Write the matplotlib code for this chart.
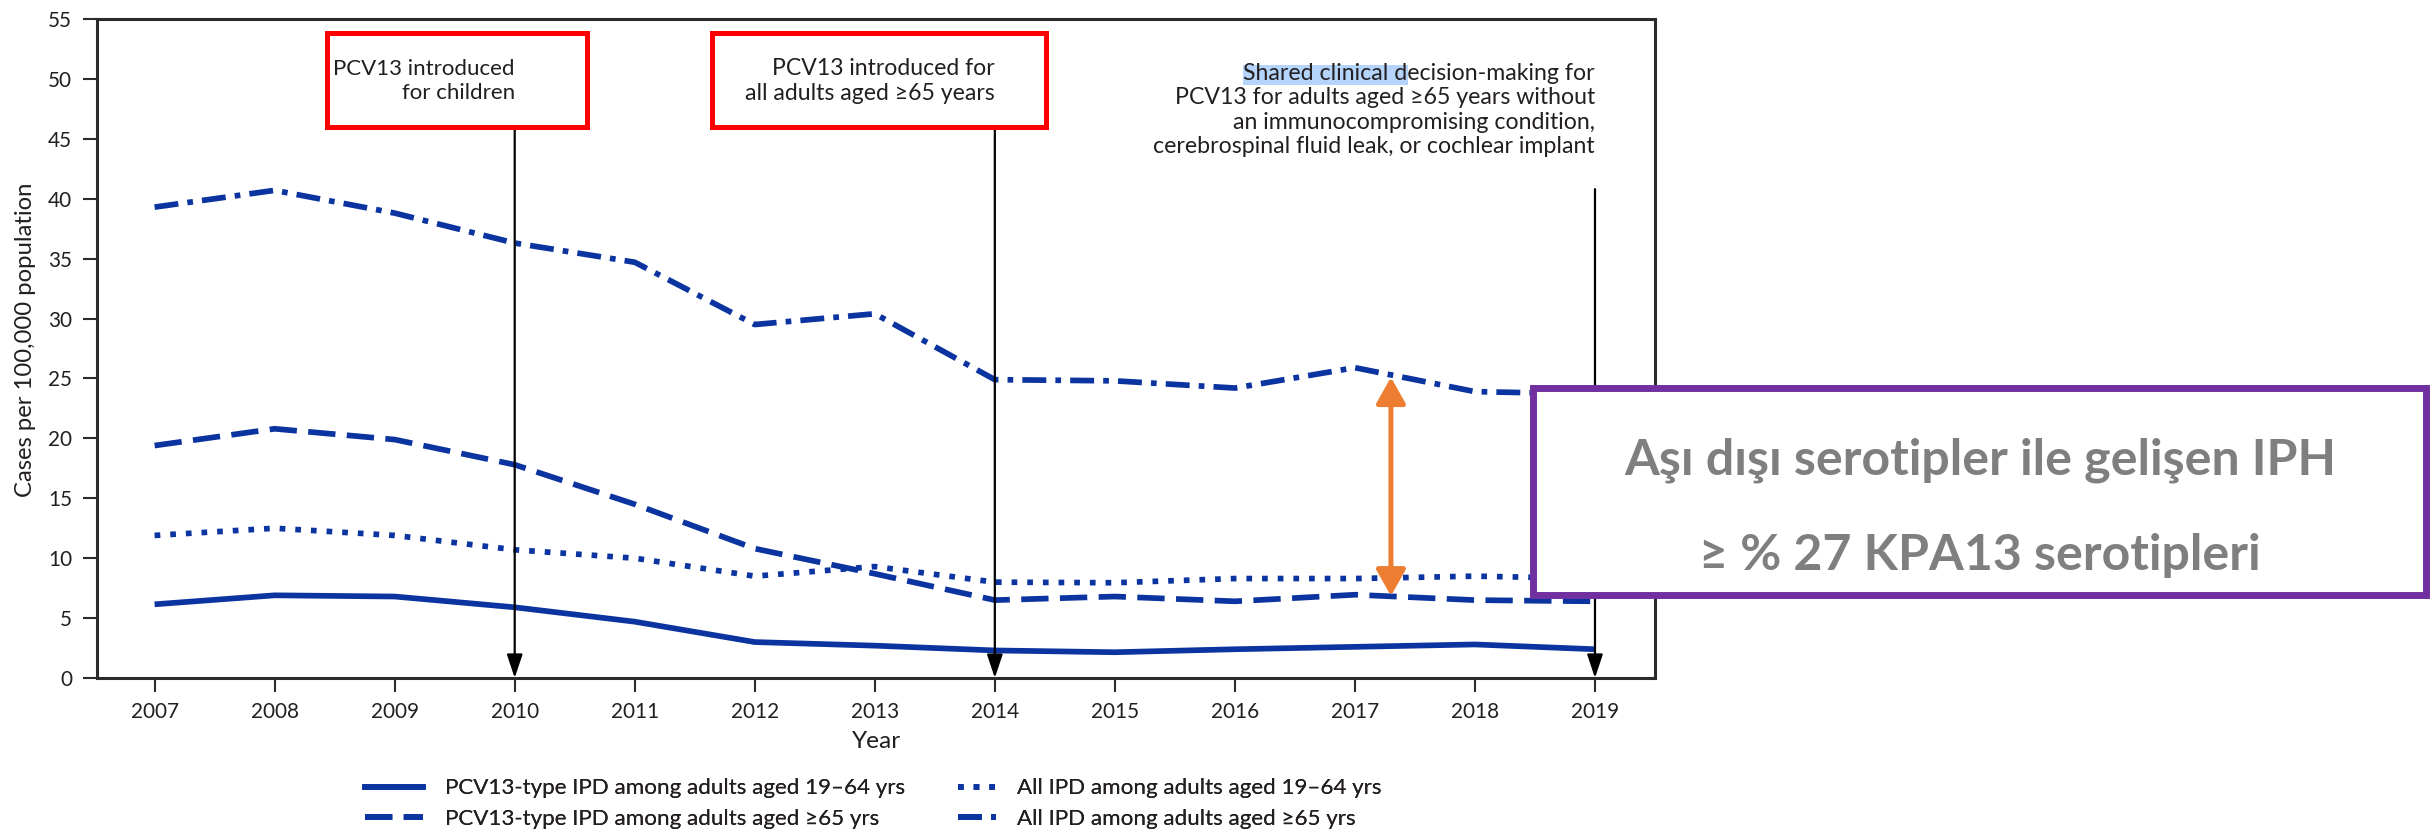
import matplotlib
matplotlib.use("Agg")
import matplotlib.pyplot as plt
from matplotlib.patches import Rectangle
from matplotlib.lines import Line2D

# ---- data -------------------------------------------------------------
years = [2007, 2008, 2009, 2010, 2011, 2012, 2013, 2014, 2015, 2016, 2017, 2018, 2019]
pcv13_19_64 = [6.15, 6.9, 6.8, 5.9, 4.7, 3.0, 2.7, 2.3, 2.15, 2.4, 2.6, 2.8, 2.4]
pcv13_65 = [19.4, 20.8, 19.9, 17.8, 14.5, 10.8, 8.7, 6.5, 6.8, 6.4, 6.95, 6.5, 6.4]
all_19_64 = [11.9, 12.5, 11.9, 10.7, 10.0, 8.5, 9.3, 8.0, 7.95, 8.3, 8.3, 8.5, 8.3]
all_65 = [39.3, 40.7, 38.8, 36.3, 34.7, 29.5, 30.4, 24.9, 24.8, 24.2, 25.9, 23.9, 23.7]

series_labels = [
    "PCV13-type IPD among adults aged 19–64 yrs",
    "PCV13-type IPD among adults aged ≥65 yrs",
    "All IPD among adults aged 19–64 yrs",
    "All IPD among adults aged ≥65 yrs",
]
y_ticks = list(range(0, 60, 5))
event_years = [2010, 2014, 2019]
event_texts = [
    "PCV13 introduced\nfor children",
    "PCV13 introduced for\nall adults aged ≥65 years",
    "Shared clinical decision-making for\nPCV13 for adults aged ≥65 years without\n"
    "an immunocompromising condition,\ncerebrospinal fluid leak, or cochlear implant",
]
gap_year = 2017.3
gap_low, gap_high = 6.85, 25.1
callout_lines = ["Aşı dışı serotipler ile gelişen IPH", "≥ % 27 KPA13 serotipleri"]

# ---- style ------------------------------------------------------------
W, H, DPI = 2431, 835, 100
FONT = ["Lato", "DejaVu Sans"]
INK = "#231f20"
BLUE = "#0b34a0"
LW = 4.1
styles = [
    dict(linestyle="-"),
    dict(linestyle=(0, (4.8, 2.0))),
    dict(linestyle=(0, (1.0, 1.75))),
    dict(linestyle=(0, (4.2, 1.6, 1.0, 1.6))),
]

plt.rcParams["font.family"] = FONT
fig = plt.figure(figsize=(W / DPI, H / DPI), dpi=DPI)
renderer = fig.canvas.get_renderer()


def px_to_fig(x, y):
    return x / W, 1 - y / H


def size_for(s, width_px, rotated=False, **kw):
    t = fig.text(0, 0, s, fontsize=10, family=FONT, **kw)
    bb = t.get_window_extent(renderer)
    t.remove()
    return 10 * width_px / (bb.height if rotated else bb.width)


left, right, top, bottom = 97, 1655, 19, 678
ax = fig.add_axes([left / W, 1 - bottom / H, (right - left) / W, (bottom - top) / H])

for vals, st in zip([pcv13_19_64, pcv13_65, all_19_64, all_65], styles):
    ax.plot(years, vals, color=BLUE, lw=LW, solid_capstyle="butt",
            dash_capstyle="butt", zorder=3, **st)

ax.set_xlim(2006.52, 2019.5)
ax.set_ylim(0, 55)
ax.set_xticks(years)
ax.set_yticks(y_ticks)

tick_fs = size_for("2007", 48)
ax.tick_params(axis="both", direction="out", length=10, width=1.5, color="#2b2b2b",
               labelsize=tick_fs, labelcolor=INK)
ax.tick_params(axis="y", pad=8)
ax.tick_params(axis="x", pad=7)
for sp in ax.spines.values():
    sp.set_linewidth(2.2)
    sp.set_color("#2b2b2b")

ax.set_ylabel("Cases per 100,000 population", fontsize=size_for("Cases per 100,000 population", 316),
              color=INK, va="center")
ax.yaxis.set_label_coords(-0.0462, 0.513)
ax.set_xlabel("Year", fontsize=size_for("Year", 49), color=INK, va="center")
ax.xaxis.set_label_coords(0.5, -0.0971)

# ---- event markers ------------------------------------------------------
arrow_tops = [46.0, 46.0, 40.8]
for yr, ytop in zip(event_years, arrow_tops):
    ax.annotate("", xy=(yr, 0), xytext=(yr, ytop), zorder=4,
                arrowprops=dict(arrowstyle="-|>,head_length=0.6,head_width=0.2",
                                color="black", lw=1.6, shrinkA=0, shrinkB=0,
                                mutation_scale=24), annotation_clip=False)

boxes = [(2008.44, 2010.60), (2011.64, 2014.43)]
for (x0, x1) in boxes:
    ax.add_patch(Rectangle((x0, 46.0), x1 - x0, 53.84 - 46.0, fill=False,
                           ec="#ff0000", lw=3.6, clip_on=False, zorder=4))

fs1 = size_for("PCV13 introduced", 182)
ax.text(2010.0, 49.8, event_texts[0], ha="right", va="center", multialignment="right",
        fontsize=fs1, color=INK, linespacing=1.25, zorder=5)
fs2 = size_for("all adults aged ≥65 years", 249)
ax.text(2014.0, 49.8, event_texts[1], ha="right", va="center", multialignment="right",
        fontsize=fs2, color=INK, linespacing=1.25, zorder=5)
fs3 = size_for("cerebrospinal fluid leak, or cochlear implant", 441)
t3 = ax.text(2019.0, 47.4, event_texts[2], ha="right", va="center", multialignment="right",
             fontsize=fs3, color=INK, linespacing=1.2, zorder=5)

# selection highlight behind the first words of the policy note
fig.canvas.draw()
bb = t3.get_window_extent(renderer)
first_line = event_texts[2].split("\n")[0]
tmp = ax.text(0, 0, first_line, fontsize=fs3)
w_line = tmp.get_window_extent(renderer).width
tmp.set_text("Shared clinical d")
w_pre = tmp.get_window_extent(renderer).width
tmp.remove()
lh = bb.height / 4
x0d = bb.x1 - w_line
yc = bb.y1 - lh / 2
inv = ax.transAxes.inverted()
(ax0, ay0) = inv.transform((x0d, yc - 0.42 * lh))
(ax1, ay1) = inv.transform((x0d + w_pre, yc + 0.42 * lh))
ax.add_patch(Rectangle((ax0, ay0), ax1 - ax0, ay1 - ay0, transform=ax.transAxes,
                       fc="#b4d4fb", ec="none", clip_on=False, zorder=4.5))

# gap between all IPD and PCV13-type IPD (≥65 yrs)
ax.annotate("", xy=(gap_year, gap_low), xytext=(gap_year, gap_high), zorder=6,
            arrowprops=dict(arrowstyle="<|-|>,head_length=0.8,head_width=0.45",
                            color="#ed7d31", lw=3.6, shrinkA=0, shrinkB=0,
                            mutation_scale=20))

# ---- legend -------------------------------------------------------------
leg_fs = size_for(series_labels[0], 459)
fpx = leg_fs * DPI / 72
handles = [Line2D([], [], color=BLUE, lw=LW, dash_capstyle="butt", **st) for st in styles]
for idx, (hx, hlen, tgap) in zip([(0, 1), (2, 3)], [(365, 58, 22), (958, 38, 21)]):
    lg = fig.legend([handles[i] for i in idx], [series_labels[i] for i in idx],
                    loc="center left", bbox_to_anchor=px_to_fig(hx, 803.5),
                    frameon=False, fontsize=leg_fs, borderpad=0, borderaxespad=0,
                    handlelength=hlen / fpx, handletextpad=tgap / fpx,
                    labelspacing=0.45, labelcolor=INK)
    fig.add_artist(lg)

# ---- call-out box -----------------------------------------------------------
bx0, bx1, by0, by1 = 1533, 2426, 388, 595
fx0, fy1 = px_to_fig(bx0, by0)
fx1, fy0 = px_to_fig(bx1, by1)
fig.add_artist(Rectangle((fx0, fy0), fx1 - fx0, fy1 - fy0, transform=fig.transFigure,
                         fc="white", ec="#7030a0", lw=5.0, zorder=10))
cfs = size_for(callout_lines[0], 715, weight="bold")
for line, yy in zip(callout_lines, [460, 555]):
    fx, fy = px_to_fig(1980, yy)
    fig.text(fx, fy, line, ha="center", va="center", fontsize=cfs, weight="bold",
             color="#7f7f7f", zorder=11)

fig.savefig("out.png", dpi=DPI, facecolor="white")
